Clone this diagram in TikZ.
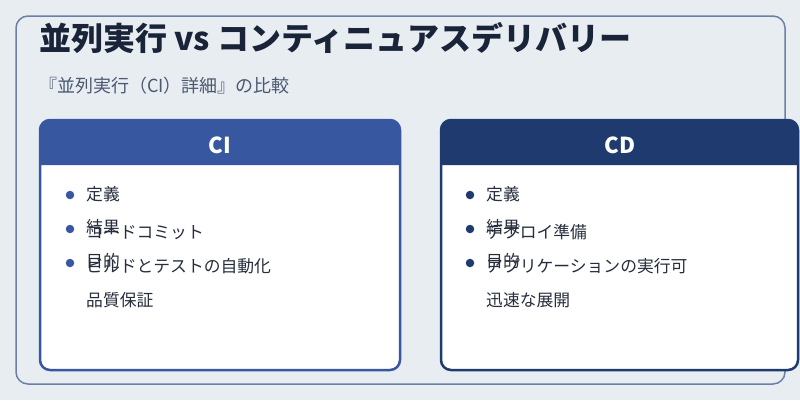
\documentclass[tikz,border=0pt]{standalone}
\usepackage{fontspec}
\newfontfamily\cjk{Noto Sans CJK JP}
\definecolor{bg}{HTML}{E8EDF2}
\definecolor{frame}{HTML}{6B80A8}
\definecolor{ciblue}{HTML}{3757A0}
\definecolor{cdblue}{HTML}{1E3A6E}
\definecolor{titlec}{HTML}{1A2438}
\definecolor{subc}{HTML}{4B5870}
\definecolor{txt}{HTML}{262E3C}
\tikzset{
  cjktext/.style={inner sep=0pt, anchor=west, text height=0.88em, text depth=0.12em},
  itemtext/.style={cjktext, text=txt, font=\cjk\fontsize{16.8}{16.8}\selectfont},
  headtext/.style={inner sep=0pt, anchor=base, text=white, font=\cjk\bfseries\fontsize{22}{22}\selectfont},
  dotmark/.style={circle, inner sep=0pt, minimum size=8.5pt},
  cardframe/.style={line width=2.5pt, rounded corners=10pt},
}
\begin{document}
\begin{tikzpicture}[x=1pt,y=-1pt]
\useasboundingbox (0,0) rectangle (800,400);
\fill[bg] (0,0) rectangle (800,400);
% outer frame
\draw[frame, line width=1.5pt, rounded corners=12pt, fill=bg] (16,16) rectangle (785,384);
% title
\node[cjktext, text=titlec, font=\cjk\bfseries\fontsize{32}{32}\selectfont] (title) at (39,47) {並列実行 vs コンティニュアスデリバリー};
\node[cjktext, text=subc, font=\cjk\fontsize{18}{18}\selectfont] (sub) at (39,89) {『並列実行（CI）詳細』の比較};

% CI card
\fill[white, rounded corners=10pt] (40,120) rectangle (400,370);
\fill[ciblue] (40,165) {[rounded corners=10pt] -- (40,120) -- (400,120)} -- (400,165) -- cycle;
\draw[ciblue, cardframe] (40,120) rectangle (400,370);
\node[headtext] (cihead) at (220,153) {CI};
\node[dotmark, fill=ciblue] (cid1) at (70,195) {};
\node[dotmark, fill=ciblue] (cid2) at (70,229) {};
\node[dotmark, fill=ciblue] (cid3) at (70,263) {};
\node[itemtext] (cil1) at (86,197) {定義};
\node[itemtext] (cil2) at (86,230) {結果};
\node[itemtext] (cil3) at (86,264) {目的};
\node[itemtext] (civ1) at (86,235) {コードコミット};
\node[itemtext] (civ2) at (86,269) {ビルドとテストの自動化};
\node[itemtext] (civ3) at (86,303) {品質保証};

% CD card
\fill[white, rounded corners=10pt] (441,120) rectangle (798,370);
\fill[cdblue] (441,165) {[rounded corners=10pt] -- (441,120) -- (798,120)} -- (798,165) -- cycle;
\draw[cdblue, cardframe] (441,120) rectangle (798,370);
\node[headtext] (cdhead) at (620,153) {CD};
\node[dotmark, fill=cdblue] (cdd1) at (470,195) {};
\node[dotmark, fill=cdblue] (cdd2) at (470,229) {};
\node[dotmark, fill=cdblue] (cdd3) at (470,263) {};
\node[itemtext] (cdl1) at (486,197) {定義};
\node[itemtext] (cdl2) at (486,230) {結果};
\node[itemtext] (cdl3) at (486,264) {目的};
\node[itemtext] (cdv1) at (486,235) {デプロイ準備};
\node[itemtext] (cdv2) at (486,269) {アプリケーションの実行可};
\node[itemtext] (cdv3) at (486,303) {迅速な展開};
\end{tikzpicture}
\end{document}
